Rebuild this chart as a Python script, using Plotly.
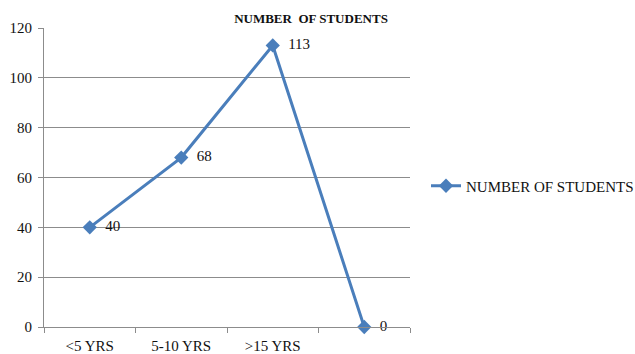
import plotly.graph_objects as go

categories = ["<5 YRS", "5-10 YRS", ">15 YRS", " "]
students = [40, 68, 113, 0]
y_ticks = [0, 20, 40, 60, 80, 100, 120]

series_name = "NUMBER OF STUDENTS"
blue = "#4A7EBB"
serif = "Liberation Serif"
ink = "#111"
axis_grey = "#8C8C8C"

fig = go.Figure()
fig.add_trace(go.Scatter(
    x=categories,
    y=students,
    mode="lines+markers+text",
    name=series_name,
    line=dict(color=blue, width=3),
    marker=dict(symbol="diamond", size=11, color=blue),
    text=["  " + str(v) for v in students],
    textposition="middle right",
    textfont=dict(family=serif, size=15, color=ink),
    cliponaxis=False,
))

fig.update_layout(
    width=635,
    height=354,
    margin=dict(l=44, r=225, t=28, b=27, autoexpand=False),
    paper_bgcolor="white",
    plot_bgcolor="white",
    font=dict(family=serif, size=15, color=ink),
    title=dict(
        text="<b>NUMBER  OF STUDENTS</b>",
        x=311 / 635, xanchor="center",
        y=1 - 18 / 354, yanchor="middle",
        font=dict(family=serif, size=13, color=ink),
    ),
    showlegend=True,
    legend=dict(
        xref="container", yref="container",
        x=426 / 635, y=1 - 186 / 354, xanchor="left", yanchor="middle",
        font=dict(family=serif, size=15, color=ink),
        bgcolor="rgba(0,0,0,0)",
        itemwidth=30,
    ),
    xaxis=dict(
        type="category",
        categoryorder="array",
        categoryarray=categories,
        tickson="boundaries",
        ticks="outside",
        ticklen=5,
        tickcolor=axis_grey,
        ticklabelstandoff=5,
        showline=True,
        linecolor=axis_grey,
        linewidth=1,
        showgrid=False,
        zeroline=False,
        range=[-0.5, 3.5],
        automargin=False,
        tickfont=dict(family=serif, size=15, color=ink),
    ),
    yaxis=dict(
        range=[0, 120],
        tickvals=y_ticks,
        ticks="outside",
        ticklen=5,
        tickcolor=axis_grey,
        ticklabelstandoff=3,
        showline=True,
        linecolor=axis_grey,
        linewidth=1,
        showgrid=True,
        gridcolor=axis_grey,
        gridwidth=1,
        zeroline=False,
        automargin=False,
        tickfont=dict(family=serif, size=15, color=ink),
    ),
)

fig.write_html("out.html")
